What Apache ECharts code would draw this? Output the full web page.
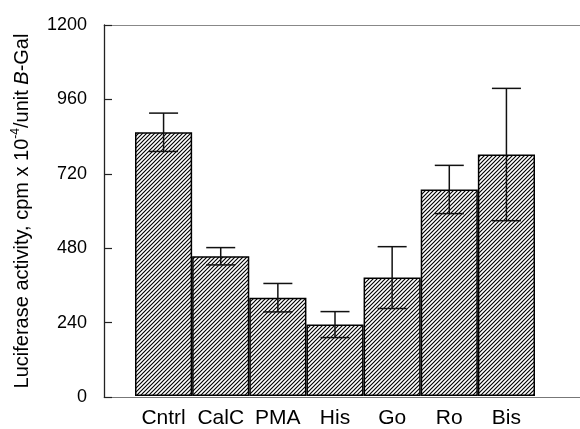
<!DOCTYPE html>
<html>
<head>
<meta charset="utf-8">
<script src="https://cdn.jsdelivr.net/npm/echarts@6/dist/echarts.min.js"></script>
<style>html,body{margin:0;padding:0;background:#fff}#c{width:580px;height:429px}</style>
</head>
<body>
<div id="c"></div>
<script>
var categories = ['Cntrl', 'CalC', 'PMA', 'His', 'Go', 'Ro', 'Bis'];
var values = [853, 452, 318, 231, 383, 668, 781];
var errors = [62, 28, 46, 42, 100, 78, 214];
var yTicks = [0, 240, 480, 720, 960, 1200];

var FONT = '"Liberation Sans", Arial, Helvetica, sans-serif';

function makeHatch() {
  var s = 4;
  var c = document.createElement('canvas');
  c.width = s; c.height = s;
  var g = c.getContext('2d');
  g.fillStyle = '#fff';
  g.fillRect(0, 0, s, s);
  g.strokeStyle = '#000';
  g.lineWidth = 1.15;
  g.beginPath();
  g.moveTo(-1, s + 1); g.lineTo(s + 1, -1);
  g.moveTo(-1, 1); g.lineTo(1, -1);
  g.moveTo(s - 1, s + 1); g.lineTo(s + 1, s - 1);
  g.stroke();
  return c;
}

var chart = echarts.init(document.getElementById('c'), null, {renderer: 'canvas'});
var errData = categories.map(function (c, i) { return [i, values[i] - errors[i], values[i] + errors[i]]; });

chart.setOption({
  animation: false,
  backgroundColor: '#fff',
  grid: [
    {left: 104, right: 0, top: 25, bottom: 32},
    {left: 135, right: 45, top: 25, bottom: 32}
  ],
  xAxis: [
    {gridIndex: 0, type: 'value', min: 0, max: 1, position: 'bottom',
     axisLine: {show: true, lineStyle: {color: '#777', width: 1}},
     axisTick: {show: false}, axisLabel: {show: false}, splitLine: {show: false}},
    {gridIndex: 1, type: 'category', data: categories, position: 'bottom',
     axisLine: {show: false}, axisTick: {show: false},
     axisLabel: {color: '#000', fontSize: 21, fontFamily: FONT, margin: 12, interval: 0}},
    {gridIndex: 0, type: 'value', min: 0, max: 1, position: 'top',
     axisLine: {show: true, lineStyle: {color: '#888', width: 1}},
     axisTick: {show: false}, axisLabel: {show: false}, splitLine: {show: false}}
  ],
  yAxis: [
    {gridIndex: 0, type: 'value', min: yTicks[0], max: yTicks[yTicks.length - 1], interval: 240,
     axisLine: {show: true, lineStyle: {color: '#222', width: 1.3}},
     axisTick: {show: true, inside: true, length: 8, lineStyle: {color: '#222', width: 1.2}},
     axisLabel: {color: '#000', fontSize: 18, fontFamily: FONT, margin: 17,
                 formatter: function (v) { return String(v); }},
     splitLine: {show: false},
     name: '{a|Luciferase activity, cpm x 10}{s|-4}{a|/unit }{i|B}{a|-Gal}',
     nameLocation: 'middle', nameRotate: 90, nameGap: 70,
     nameTextStyle: {
       color: '#000', fontFamily: FONT, fontSize: 20,
       rich: {
         a: {fontSize: 20, fontFamily: FONT, color: '#000', lineHeight: 24},
         s: {fontSize: 12, fontFamily: FONT, color: '#000', verticalAlign: 'top', lineHeight: 24},
         i: {fontSize: 20, fontFamily: FONT, color: '#000', fontStyle: 'italic', lineHeight: 24}
       }
     }},
    {gridIndex: 1, type: 'value', min: 0, max: 1200, interval: 240, show: false, splitLine: {show: false}}
  ],
  series: [
    {type: 'bar', xAxisIndex: 1, yAxisIndex: 1, data: values,
     barCategoryGap: '0%', barGap: '0%',
     itemStyle: {color: {image: makeHatch(), repeat: 'repeat'}, borderColor: '#000', borderWidth: 1.5}},
    {type: 'custom', xAxisIndex: 1, yAxisIndex: 1, data: errData, z: 10,
     renderItem: function (params, api) {
       var x = api.value(0);
       var lo = api.coord([x, api.value(1)]);
       var hi = api.coord([x, api.value(2)]);
       var hw = 14.5;
       var st = {stroke: '#111', lineWidth: 1.5};
       return {type: 'group', children: [
         {type: 'line', shape: {x1: hi[0], y1: hi[1], x2: lo[0], y2: lo[1]}, style: st},
         {type: 'line', shape: {x1: hi[0] - hw, y1: hi[1], x2: hi[0] + hw, y2: hi[1]}, style: st},
         {type: 'line', shape: {x1: lo[0] - hw, y1: lo[1], x2: lo[0] + hw, y2: lo[1]}, style: st}
       ]};
     }}
  ]
});
</script>
</body>
</html>
